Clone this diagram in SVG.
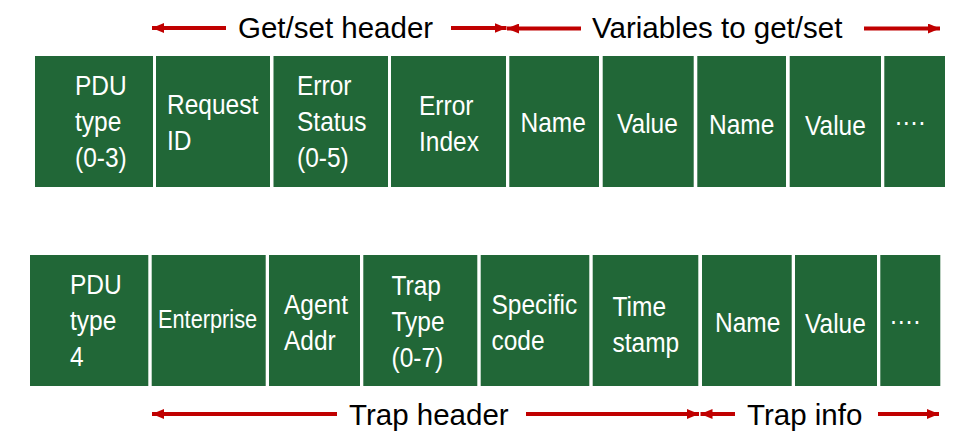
<svg xmlns="http://www.w3.org/2000/svg" width="976" height="436" viewBox="0 0 976 436">
<defs>
<style>
.box{fill:#216737;}
.lbl{font-family:"Liberation Sans",Arial,sans-serif;font-size:28.5px;fill:#ffffff;}
.sm{font-size:25px;}
.hd{font-family:"Liberation Sans",Arial,sans-serif;font-size:29.5px;fill:#000000;}
.arr{stroke:#C00000;stroke-width:4;fill:none;}
</style>
<marker id="ah" viewBox="0 0 12 10" refX="12" refY="5" markerWidth="12" markerHeight="10" markerUnits="userSpaceOnUse" orient="auto">
<path d="M0,0 L12,5 L0,10 Z" fill="#C00000"/>
</marker>
</defs>
<rect width="976" height="436" fill="#ffffff"/>

<g id="top-row">
<g id="t1"><rect class="box" x="35" y="56" width="118" height="131"/>
<text class="lbl" transform="translate(75,95) scale(0.86,1)"><tspan x="0">PDU</tspan><tspan x="0" dy="36">type</tspan><tspan x="0" dy="36">(0-3)</tspan></text></g>
<g id="t2"><rect class="box" x="156" y="56" width="114" height="131"/>
<text class="lbl" transform="translate(167,114) scale(0.86,1)"><tspan x="0">Request</tspan><tspan x="0" dy="36">ID</tspan></text></g>
<g id="t3"><rect class="box" x="273.5" y="56" width="114.5" height="131"/>
<text class="lbl" transform="translate(297,95) scale(0.86,1)"><tspan x="0">Error</tspan><tspan x="0" dy="36">Status</tspan><tspan x="0" dy="36">(0-5)</tspan></text></g>
<g id="t4"><rect class="box" x="391" y="56" width="115" height="131"/>
<text class="lbl" transform="translate(419,115) scale(0.86,1)"><tspan x="0">Error</tspan><tspan x="0" dy="36">Index</tspan></text></g>
<g id="t5"><rect class="box" x="509.3" y="56" width="89.7" height="131"/>
<text class="lbl" transform="translate(520.5,132) scale(0.86,1)">Name</text></g>
<g id="t6"><rect class="box" x="602.7" y="56" width="91" height="131"/>
<text class="lbl" transform="translate(617,133) scale(0.86,1)">Value</text></g>
<g id="t7"><rect class="box" x="697.3" y="56" width="88.7" height="131"/>
<text class="lbl" transform="translate(709,133.5) scale(0.86,1)">Name</text></g>
<g id="t8"><rect class="box" x="789.7" y="56" width="91.3" height="131"/>
<text class="lbl" transform="translate(805,134.5) scale(0.86,1)">Value</text></g>
<g id="t9"><rect class="box" x="884.3" y="56" width="60.7" height="131"/>
<text class="lbl" transform="translate(894,124.5) scale(0.86,1)">….</text></g>
</g>

<g id="bottom-row">
<g id="b1"><rect class="box" x="30" y="255" width="118.3" height="131"/>
<text class="lbl" transform="translate(70,294) scale(0.86,1)"><tspan x="0">PDU</tspan><tspan x="0" dy="36">type</tspan><tspan x="0" dy="36">4</tspan></text></g>
<g id="b2"><rect class="box" x="151.7" y="255" width="114" height="131"/>
<text class="lbl sm" transform="translate(158,328) scale(0.87,1)">Enterprise</text></g>
<g id="b3"><rect class="box" x="269" y="255" width="91" height="131"/>
<text class="lbl" transform="translate(284,314) scale(0.86,1)"><tspan x="0">Agent</tspan><tspan x="0" dy="36">Addr</tspan></text></g>
<g id="b4"><rect class="box" x="363.3" y="255" width="114" height="131"/>
<text class="lbl" transform="translate(391.5,295) scale(0.86,1)"><tspan x="0">Trap</tspan><tspan x="0" dy="36">Type</tspan><tspan x="0" dy="36">(0-7)</tspan></text></g>
<g id="b5"><rect class="box" x="480.7" y="255" width="108.6" height="131"/>
<text class="lbl" transform="translate(491.5,314) scale(0.86,1)"><tspan x="0">Specific</tspan><tspan x="0" dy="36">code</tspan></text></g>
<g id="b6"><rect class="box" x="592.7" y="255" width="105.6" height="131"/>
<text class="lbl" transform="translate(612.5,316) scale(0.86,1)"><tspan x="0">Time</tspan><tspan x="0" dy="36">stamp</tspan></text></g>
<g id="b7"><rect class="box" x="702" y="255" width="89.7" height="131"/>
<text class="lbl" transform="translate(715,331.5) scale(0.86,1)">Name</text></g>
<g id="b8"><rect class="box" x="795" y="255" width="82" height="131"/>
<text class="lbl" transform="translate(805,332.5) scale(0.86,1)">Value</text></g>
<g id="b9"><rect class="box" x="880.3" y="255" width="60" height="131"/>
<text class="lbl" transform="translate(889,323.5) scale(0.86,1)">….</text></g>
</g>

<g id="labels">
<text class="hd" x="238" y="37.5">Get/set header</text>
<text class="hd" x="592" y="37.5">Variables to get/set</text>
<text class="hd" x="349" y="424.5">Trap header</text>
<text class="hd" x="747" y="424.5">Trap info</text>
</g>

<g id="connectors">
<line class="arr" x1="226" y1="28" x2="152" y2="28" marker-end="url(#ah)"/>
<line class="arr" x1="451" y1="28" x2="506.5" y2="28" marker-end="url(#ah)"/>
<line class="arr" x1="581" y1="28.5" x2="507" y2="28.5" marker-end="url(#ah)"/>
<line class="arr" x1="864" y1="28.5" x2="940" y2="28.5" marker-end="url(#ah)"/>
<line class="arr" x1="337" y1="414" x2="152" y2="414" marker-end="url(#ah)"/>
<line class="arr" x1="526" y1="414" x2="699" y2="414" marker-end="url(#ah)"/>
<line class="arr" x1="735" y1="414" x2="700.5" y2="414" marker-end="url(#ah)"/>
<line class="arr" x1="878" y1="414" x2="939" y2="414" marker-end="url(#ah)"/>
</g>
</svg>
